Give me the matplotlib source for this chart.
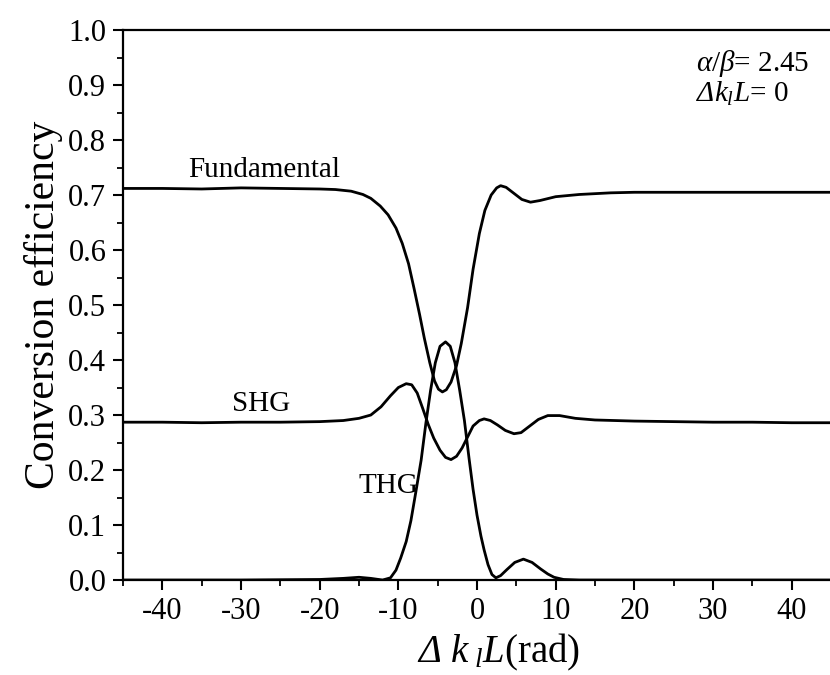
import matplotlib
matplotlib.use("Agg")
import matplotlib.pyplot as plt
from matplotlib.ticker import MultipleLocator, FormatStrFormatter

plt.rcParams['font.family'] = ['Liberation Serif', 'DejaVu Serif']
plt.rcParams['axes.unicode_minus'] = False
plt.rcParams['mathtext.fontset'] = 'custom'
plt.rcParams['mathtext.rm'] = 'Liberation Serif'
plt.rcParams['mathtext.it'] = 'Liberation Serif:italic'
plt.rcParams['mathtext.sf'] = 'Liberation Serif:italic'  # pour un Delta en italique

# Valeurs (Delta k L en rad, rendement de conversion)
fund_x = [-45, -40, -35, -30, -25, -20, -18, -16, -14.5, -13.5, -12.3, -11.3, -10.3,
          -9.5, -8.7, -8.0, -7.3, -6.7, -6.0, -5.4, -4.9, -4.4, -3.9, -3.3, -2.6,
          -2.0, -1.2, -0.5, 0.3, 1.0, 1.8, 2.5, 3.0, 3.7, 4.7, 5.7, 6.8, 8.0, 10.0,
          13.0, 17.0, 20, 25, 30, 35, 40, 45]
fund_y = [0.712, 0.712, 0.711, 0.713, 0.712, 0.711, 0.710, 0.707, 0.701, 0.694,
          0.680, 0.664, 0.640, 0.612, 0.575, 0.530, 0.483, 0.440, 0.395, 0.362,
          0.347, 0.342, 0.346, 0.360, 0.390, 0.430, 0.495, 0.565, 0.630, 0.672,
          0.700, 0.713, 0.717, 0.714, 0.703, 0.692, 0.687, 0.690, 0.697, 0.701,
          0.704, 0.705, 0.705, 0.705, 0.705, 0.705, 0.705]

shg_x = [-45, -40, -35, -30, -25, -20, -17, -15, -13.5, -12.2, -11.0, -10.0, -9.0,
         -8.3, -7.6, -6.9, -6.2, -5.5, -4.7, -4.0, -3.3, -2.6, -1.9, -1.2, -0.5,
         0.3, 0.9, 1.7, 2.6, 3.6, 4.7, 5.6, 6.7, 7.8, 9.0, 10.5, 12.5, 15.0, 20,
         25, 30, 35, 40, 45]
shg_y = [0.287, 0.287, 0.286, 0.287, 0.287, 0.288, 0.290, 0.294, 0.300, 0.315,
         0.335, 0.350, 0.357, 0.355, 0.340, 0.312, 0.283, 0.258, 0.236, 0.223,
         0.219, 0.225, 0.240, 0.260, 0.280, 0.290, 0.293, 0.290, 0.282, 0.272,
         0.266, 0.268, 0.280, 0.292, 0.299, 0.299, 0.294, 0.291, 0.289, 0.288,
         0.287, 0.287, 0.286, 0.286]

thg_x = [-45, -30, -20, -17, -15, -13.5, -12, -11, -10.3, -9.7, -9.0, -8.4, -7.8,
         -7.1, -6.5, -5.9, -5.3, -4.7, -4.0, -3.4, -2.8, -2.2, -1.6, -1.0, -0.5,
         0.0, 0.5, 0.9, 1.4, 1.9, 2.4, 3.0, 3.8, 4.8, 5.9, 7.0, 8.1, 9.0, 9.8,
         11, 13, 20, 45]
thg_y = [0.0, 0.0, 0.001, 0.003, 0.005, 0.003, 0.0, 0.004, 0.018, 0.040, 0.070,
         0.108, 0.158, 0.218, 0.285, 0.345, 0.395, 0.425, 0.433, 0.425, 0.395,
         0.345, 0.290, 0.220, 0.165, 0.118, 0.080, 0.055, 0.028, 0.010, 0.004,
         0.008, 0.019, 0.032, 0.038, 0.032, 0.020, 0.011, 0.005, 0.001, 0.0, 0.0,
         0.0]

fig = plt.figure(figsize=(8.3, 6.75), dpi=100)
ax = fig.add_axes([0.1482, 0.1407, 0.853, 0.8148])

for xs, ys in [(fund_x, fund_y), (shg_x, shg_y), (thg_x, thg_y)]:
    ax.plot(xs, ys, color='black', lw=2.0, solid_joinstyle='round')

ax.set_xlim(-45, 45)
ax.set_ylim(0, 1.0)
ax.xaxis.set_major_locator(MultipleLocator(10))
ax.xaxis.set_minor_locator(MultipleLocator(5))
ax.yaxis.set_major_locator(MultipleLocator(0.1))
ax.yaxis.set_minor_locator(MultipleLocator(0.05))
ax.yaxis.set_major_formatter(FormatStrFormatter('%.1f'))
ax.tick_params(which='major', direction='out', length=7, width=1.5,
               labelsize=22, pad=5)
ax.tick_params(which='minor', direction='out', length=4, width=1.3)
ax.spines['right'].set_visible(False)
for s in ['left', 'bottom', 'top']:
    ax.spines[s].set_linewidth(1.6)

ax.set_ylabel('Conversion efficiency', fontsize=30)
ax.set_xlabel(r'$\mathsf{\Delta}\ \mathit{k_{\ l}L}$(rad)', fontsize=28)
ax.xaxis.set_label_coords(0.53, -0.095)

ax.text(-27, 0.745, 'Fundamental', fontsize=21, ha='center', va='center')
ax.text(-27.4, 0.32, 'SHG', fontsize=21, ha='center', va='center')
ax.text(-11.3, 0.171, 'THG', fontsize=21, ha='center', va='center')
ax.text(27.8, 0.939, r'$\alpha/\beta$= 2.45', fontsize=21, ha='left', va='center')
ax.text(27.8, 0.883, r'$\mathsf{\Delta}\mathit{k_{l}L}$= 0', fontsize=21,
        ha='left', va='center')

fig.savefig('out.png', dpi=100)
